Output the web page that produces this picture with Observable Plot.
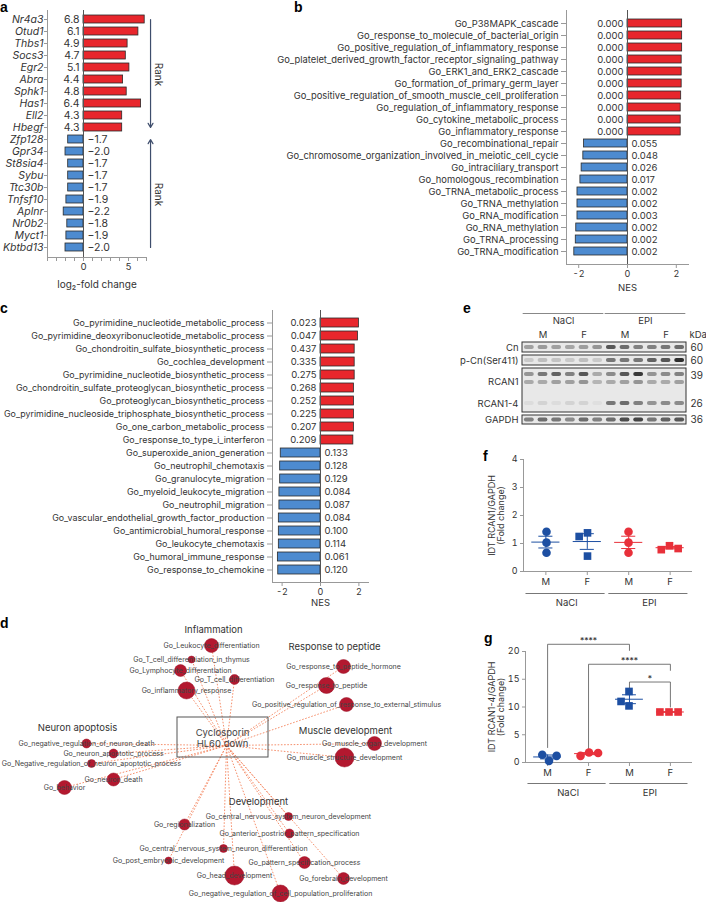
<!DOCTYPE html>
<html><head><meta charset="utf-8">
<script src="https://cdn.jsdelivr.net/npm/d3@7"></script>
<script src="https://cdn.jsdelivr.net/npm/@observablehq/plot@0.6"></script>
<style>
body{margin:0;background:#fff;}
#fig{position:relative;width:706px;height:902px;overflow:hidden;font-family:Inter,"Noto Sans",sans-serif;color:#333;}
.panel{position:absolute;}
.panel svg{display:block;overflow:visible;}
.lbl{position:absolute;font-family:"Liberation Sans",Arial,sans-serif;font-weight:bold;font-size:14px;line-height:14px;color:#000;}
</style></head><body><div id="fig"></div>
<script>
// ---------- DATA ----------
// panel a
const genesA = ["Nr4a3","Otud1","Thbs1","Socs3","Egr2","Abra","Sphk1","Has1","Ell2","Hbegf","Zfp128","Gpr34","St8sia4","Sybu","Ttc30b","Tnfsf10","Aplnr","Nr0b2","Myct1","Kbtbd13"];
const foldA = [6.8,6.1,4.9,4.7,5.1,4.4,4.8,6.4,4.3,4.3,-1.7,-2.0,-1.7,-1.7,-1.7,-1.9,-2.2,-1.8,-1.9,-2.0];
const rankArrows = [{from:"Nr4a3", to:"Hbegf"}, {from:"Kbtbd13", to:"Zfp128"}];
const rankLabelRows = ["Abra","Tnfsf10"];
// panel b
const termsB = ["Go_P38MAPK_cascade","Go_response_to_molecule_of_bacterial_origin","Go_positive_regulation_of_inflammatory_response","Go_platelet_derived_growth_factor_receptor_signaling_pathway","Go_ERK1_and_ERK2_cascade","Go_formation_of_primary_germ_layer","Go_positive_regulation_of_smooth_muscle_cell_proliferation","Go_regulation_of_inflammatory_response","Go_cytokine_metabolic_process","Go_inflammatory_response","Go_recombinational_repair","Go_chromosome_organization_involved_in_meiotic_cell_cycle","Go_intraciliary_transport","Go_homologous_recombination","Go_TRNA_metabolic_process","Go_TRNA_methylation","Go_RNA_modification","Go_RNA_methylation","Go_TRNA_processing","Go_TRNA_modification"];
const nesB = [2.24,2.24,2.24,2.22,2.22,2.22,2.2,2.18,2.18,2.18,-1.78,-1.81,-1.88,-1.93,-2.05,-2.05,-2.05,-2.1,-2.12,-2.18];
const fdrB = ["0.000","0.000","0.000","0.000","0.000","0.000","0.000","0.000","0.000","0.000","0.055","0.048","0.026","0.017","0.002","0.002","0.003","0.002","0.002","0.002"];
// panel c
const termsC = ["Go_pyrimidine_nucleotide_metabolic_process","Go_pyrimidine_deoxyribonucleotide_metabolic_process","Go_chondroitin_sulfate_biosynthetic_process","Go_cochlea_development","Go_pyrimidine_nucleotide_biosynthetic_process","Go_chondroitin_sulfate_proteoglycan_biosynthetic_process","Go_proteoglycan_biosynthetic_process","Go_pyrimidine_nucleoside_triphosphate_biosynthetic_process","Go_one_carbon_metabolic_process","Go_response_to_type_i_interferon","Go_superoxide_anion_generation","Go_neutrophil_chemotaxis","Go_granulocyte_migration","Go_myeloid_leukocyte_migration","Go_neutrophil_migration","Go_vascular_endothelial_growth_factor_production","Go_antimicrobial_humoral_response","Go_leukocyte_chemotaxis","Go_humoral_immune_response","Go_response_to_chemokine"];
const nesC = [2.0,1.95,1.78,1.78,1.78,1.74,1.74,1.74,1.74,1.71,-2.07,-2.1,-2.1,-2.14,-2.14,-2.17,-2.17,-2.17,-2.22,-2.2];
const fdrC = ["0.023","0.047","0.437","0.335","0.275","0.268","0.252","0.225","0.207","0.209","0.133","0.128","0.129","0.084","0.087","0.084","0.100","0.114","0.061","0.120"];
// panel d (network; layout coordinates and node sizes)
const clusterNames = ["Inflammation","Response to peptide","Neuron apoptosis","Muscle development","Development"];
const clusterX = [213,334,77,345,258];
const clusterY = [629,646,727,730,801];
const hubName = "Cyclosporin\nHL60 down";
const hubX = 226, hubY = 745;
const hubBox = {x1:177, x2:268, y1:717, y2:757, tx:222, ty:737.5};
const termNamesD = ["Go_Leukocyte_differentiation","Go_T_cell_differentiation_in_thymus","Go_Lymphocyte_differentiation","Go_T_cell_differentiation","Go_inflammatory_response","Go_response_to_peptide_hormone","Go_response_to_peptide","Go_positive_regulation_of_response_to_external_stimulus","Go_negative_regulation_of_neuron_death","Go_neuron_apoptotic_process","Go_Negative_regulation_of_neuron_apoptotic_process","Go_neuron_death","Go_behavior","Go_muscle_organ_development","Go_muscle_structure_development","Go_central_nervous_system_neuron_development","Go_regionalization","Go_anterior_postrior_pattern_specification","Go_central_nervous_system_neuron_differentiation","Go_post_embryonic_development","Go_pattern_specification_process","Go_head_development","Go_forebrain_development","Go_negative_regulation_of_cell_population_proliferation"];
const termXD = [211,191,180,234,186,343,326,346,86,113,91,113,64,374,344,288,184,289,223,168,304,234,343,280];
const termYD = [645,659,670,679,690,666,685,704,743,753,763,779,787,743,757,816,824,833,848,860,862,875,878,893];
const termSizeD = [7,3.5,6,5,8.5,7,8,7,4.5,4.5,4,6.5,7,7,9.5,4,5.5,4.5,4,3.5,6,9.5,6,8.5];
// panel e (western blot)
const blotLanes = [1,2,3,4,5,6,7,8,9,10,11,12];
const blotGroups = [{name:"NaCl", first:1, last:6},{name:"EPI", first:7, last:12}];
const blotSex = [{name:"M", lane:2},{name:"F", lane:5},{name:"M", lane:8},{name:"F", lane:11}];
const blotRows = ["Cn","p-Cn(Ser411)","RCAN1","GAPDH"];
const blotRowTop = [0,13,26,73];
const blotRowBottom = [10,23,70,82];
const blotLabels = ["Cn","p-Cn(Ser411)","RCAN1","RCAN1-4","GAPDH"];
const blotLabelY = [5,18,39,61,77.5];
const kDaLabels = ["60","60","39","26","36"];
const kDaY = [5,18,33,61,77.5];
const bandY = [5,18,32,40,61,77.5];
const bandIntensity = [
  [0.35,0.38,0.35,0.32,0.36,0.4,0.7,0.6,0.5,0.5,0.55,0.6],
  [0.15,0.2,0.18,0.15,0.2,0.15,0.55,0.55,0.55,0.65,0.7,0.9],
  [0.4,0.55,0.65,0.5,0.7,0.3,0.45,0.7,0.85,0.4,0.45,0.5],
  [0.3,0.3,0.35,0.35,0.4,0.25,0.3,0.35,0.4,0.3,0.3,0.35],
  [0.06,0.1,0.06,0.1,0.1,0.04,0.55,0.6,0.5,0.4,0.45,0.45],
  [0.5,0.6,0.55,0.45,0.6,0.5,0.6,0.75,0.8,0.55,0.65,0.7]
];
// panels f, g
const groupsFG = ["NaCl M","NaCl F","EPI M","EPI F"];
const sexFG = ["M","F","M","F"];
const treatFG = [{name:"NaCl", first:0, last:1},{name:"EPI", first:2, last:3}];
const fValues = [[1.42,1.03,0.67],[1.38,1.25,0.55],[1.42,1.03,0.67],[0.92,0.78,0.82]];
const fMean = [1.05,1.07,1.04,0.85];
const fSem = [0.21,0.28,0.22,0.04];
const gValues = [[0.3,1.4,1.2],[1.8,1.2,1.7],[12.8,10.2,11.0],[9.1,9.1,9.1]];
const gMean = [1.0,1.6,11.4,9.1];
const gSem = [0.35,0.18,0.8,0.03];
const gBrackets = [
  {from:0, to:2, base1:2.7, top:21.3, base2:20.2, label:"****"},
  {from:1, to:3, base1:2.5, top:17.7, base2:16.6, label:"****"},
  {from:2, to:3, base1:13.3, top:14.5, base2:10.0, label:"*"}
];

// ---------- STYLE ----------
const FONT = "Inter, 'Noto Sans', sans-serif";
const RED = "#e8262c", BLUE = "#4d8bd0", EDGE = "#2a2a2a";
const DBLUE = "#1d4fa2", DRED = "#e8303a";
const fig = document.getElementById("fig");
function place(node, left, top){
  const d = document.createElement("div"); d.className = "panel";
  d.style.left = left + "px"; d.style.top = top + "px";
  d.appendChild(node); fig.appendChild(d); return node;
}
function letter(ch, left, top){
  const d = document.createElement("div"); d.className = "lbl"; d.textContent = ch;
  d.style.left = left + "px"; d.style.top = top + "px"; fig.appendChild(d);
}
const baseStyle = (fs) => ({fontFamily: FONT, fontSize: fs + "px", color: "#333", background: "transparent", overflow: "visible", maxWidth: "none"});

// ---------- bar panels a, b, c ----------
function barPanel(o){
  const data = o.terms.map((t,i) => ({t, v:o.vals[i], lab:o.labels[i]}));
  const pos = data.filter(d => d.v > 0), neg = data.filter(d => d.v < 0);
  const marks = [
    Plot.frame({anchor:"bottom", stroke:"#999"}),
    Plot.ruleX([o.domain[0]], {stroke:"#999"}),
    Plot.barX(pos, {x:"v", y:"t", fill:RED, stroke:EDGE, strokeWidth:0.8}),
    Plot.barX(neg, {x:"v", y:"t", fill:BLUE, stroke:EDGE, strokeWidth:0.8}),
    Plot.ruleX([0], {stroke:"#555"}),
    Plot.text(pos, {x:0, y:"t", text:"lab", textAnchor:"end", dx:-4, fontSize:o.vfs, fill:"#333"}),
    Plot.text(neg, {x:0, y:"t", text:"lab", textAnchor:"start", dx:4, fontSize:o.vfs, fill:"#333"}),
    Plot.axisY({tickSize:o.ytick, tickPadding:o.ypad, stroke:"#999", fontSize:o.fs, fontStyle:o.italic ? "italic" : "normal", label:null}),
    Plot.axisX({ticks:o.ticks, tickFormat:o.tickFormat, tickSize:4, tickPadding:2, stroke:"#999", fontSize:o.tfs, label:null}),
    Plot.text([o.xLabel], {frameAnchor:"bottom", textAnchor:"middle", dy:o.labelDy, fontSize:o.lfs, fill:"#333"})
  ];
  if (o.extra) marks.push(...o.extra);
  return Plot.plot({
    width:o.width, height:o.height, marginLeft:o.ml, marginRight:o.mr, marginTop:o.mt, marginBottom:o.mb,
    style: baseStyle(o.fs),
    x:{domain:o.domain},
    y:{domain:o.terms, paddingInner:0.3, paddingOuter:o.po},
    marks
  });
}

// panel a
place(barPanel({
  terms:genesA, vals:foldA, labels:foldA.map(v => v < 0 ? "\u2212" + Math.abs(v).toFixed(1) : v.toFixed(1)),
  width:170, height:300, ml:47, mr:24, mt:10, mb:43, po:0.305,
  domain:[-4,7], ticks:d3.range(-4,8), tickFormat:d => (d === 0 || d === 5) ? d : "",
  fs:10.5, vfs:10.5, tfs:9.5, lfs:10, italic:true, ytick:3, ypad:1,
  xLabel:"log\u2082-fold change", labelDy:30,
  extra:[
    Plot.arrow(rankArrows, {x1:7.45, x2:7.45, y1:"from", y2:"to", stroke:"#3e4d6c", strokeWidth:1.2, headLength:6}),
    Plot.text(rankLabelRows, {x:8.3, y:d => d, dy:-5, text:() => "Rank", rotate:90, fontSize:10, fill:"#333"})
  ]
}), 0, 0);

// panel b
place(barPanel({
  terms:termsB, vals:nesB, labels:fdrB,
  width:416, height:300, ml:276, mr:18, mt:10, mb:36, po:0.285,
  domain:[-2.5,2.5], ticks:[-2,0,2], tickFormat:d => d,
  fs:9.4, vfs:9.5, tfs:9, lfs:9.5, italic:false, ytick:5, ypad:3,
  xLabel:"NES", labelDy:26
}), 290, 0);

// panel c
place(barPanel({
  terms:termsC, vals:nesC, labels:fdrC,
  width:380, height:320, ml:272, mr:12, mt:10, mb:38, po:0.285,
  domain:[-2.5,2.5], ticks:[-2,0,2], tickFormat:d => d,
  fs:8.9, vfs:9.5, tfs:9, lfs:9.5, italic:false, ytick:5, ypad:3,
  xLabel:"NES", labelDy:23
}), 0, 300);

// ---------- panel d (network) ----------
const nodesD = termNamesD.map((name,i) => ({name, x:termXD[i], y:termYD[i], size:termSizeD[i]}));
const clustersD = clusterNames.map((name,i) => ({name, x:clusterX[i], y:clusterY[i]}));
place(Plot.plot({
  width:470, height:287, margin:0,
  style: baseStyle(7),
  x:{domain:[0,470], range:[0,470], axis:null},
  y:{domain:[615,902], range:[0,287], axis:null},
  r:{type:"linear", domain:[0,10], range:[0,10]},
  marks:[
    Plot.link(nodesD, {x1:hubX, y1:hubY, x2:"x", y2:"y", stroke:"#f4835c", strokeWidth:0.9, strokeDasharray:"1.6,1.6"}),
    Plot.rect([hubBox], {x1:"x1", x2:"x2", y1:"y1", y2:"y2", fill:"none", stroke:"#555", strokeWidth:1}),
    Plot.text([hubBox], {x:"tx", y:"ty", text:() => hubName, fontSize:9.5, fill:"#444", lineHeight:1.15}),
    Plot.dot(nodesD, {x:"x", y:"y", r:"size", fill:"#b3182f", stroke:"#9a1428", strokeWidth:0.5}),
    Plot.text(nodesD, {x:"x", y:"y", text:"name", fontSize:7, fill:"#444"}),
    Plot.text(clustersD, {x:"x", y:"y", text:"name", fontSize:9.5, fill:"#333"})
  ]
}), 0, 615);

// ---------- panel e (western blot) ----------
const blotRowData = blotRows.map((name,i) => ({name, top:blotRowTop[i], bottom:blotRowBottom[i]}));
const bandData = bandIntensity.flatMap((arr,b) => arr.map((v,li) => ({lane:blotLanes[li], y:bandY[b], v})));
const svgE = Plot.plot({
  width:246, height:130, margin:0,
  style: baseStyle(9),
  x:{domain:[0.5,12.5], range:[62,226], axis:null},
  y:{domain:[-42,88], range:[0,130], axis:null},
  marks:[
    Plot.ruleY(blotGroups, {y:-29, x1:d => d.first - 0.45, x2:d => d.last + 0.45, stroke:"#888", strokeWidth:1}),
    Plot.text(blotGroups, {y:-22, x:d => (d.first + d.last) / 2, text:"name", fontSize:9.5, fill:"#333"}),
    Plot.text(blotSex, {y:-8, x:"lane", text:"name", fontSize:9.5, fill:"#333"}),
    Plot.text(["kDa"], {x:12.5, y:-8, dx:3, textAnchor:"start", fontSize:9.5, fill:"#333"}),
    Plot.rect(blotRowData, {x1:0.5, x2:12.5, y1:"top", y2:"bottom", fill:"#e8e8e8"}),
    Plot.rect(bandData, {x1:d => d.lane - 0.36, x2:d => d.lane + 0.36, y1:d => d.y - 2, y2:d => d.y + 2, fill:"#1a1a1a", fillOpacity:"v", rx:2, ariaLabel:"blotband"}),
    Plot.rect(blotRowData, {x1:0.5, x2:12.5, y1:"top", y2:"bottom", fill:"none", stroke:"#333", strokeWidth:1}),
    Plot.text(blotLabels, {x:0.5, y:(d,i) => blotLabelY[i], text:d => d, textAnchor:"end", dx:-4, fontSize:9.5, fill:"#333"}),
    Plot.text(kDaLabels, {x:12.5, y:(d,i) => kDaY[i], text:d => d, textAnchor:"start", dx:4, fontSize:10, fill:"#333"})
  ]
});
d3.select(svgE).append("defs").html('<filter id="blotblur" x="-50%" y="-200%" width="200%" height="500%"><feGaussianBlur stdDeviation="1.6 1.2"/></filter>');
d3.select(svgE).selectAll('g[aria-label="blotband"]').attr("filter", "url(#blotblur)");
place(svgE, 460, 300);

// ---------- panels f, g (dot plots) ----------
function dotPanel(o){
  const dims = {width:236, height:o.height, marginLeft:o.ml, marginRight:14, marginTop:o.mt, marginBottom:o.mb};
  const stats = groupsFG.map((g,i) => ({i, mean:o.mean[i], lo:o.mean[i] - o.sem[i], hi:o.mean[i] + o.sem[i], c:o.colors[i]}));
  const overlayMarks = [
    Plot.ruleY([0], {stroke:"#999"}),
    Plot.ruleX([-0.54], {stroke:"#999"}),
    Plot.axisY({ticks:o.ticks, tickFormat:d => String(d), tickSize:3, tickPadding:3, stroke:"#999", fontSize:9, label:null}),
    Plot.axisX({ticks:[0,1,2,3], tickFormat:i => sexFG[i], tickSize:4, tickPadding:3, stroke:"#999", fontSize:9.5, label:null}),
    Plot.ruleY(treatFG, {y:0, x1:d => d.first - 0.48, x2:d => d.last + 0.43, dy:o.lineDy, stroke:"#777"}),
    Plot.text(treatFG, {y:0, x:d => (d.first + d.last) / 2, text:"name", dy:o.lineDy + 9, fontSize:9.5, fill:"#333"}),
    Plot.text([o.yLabel], {frameAnchor:"left", textAnchor:"middle", lineAnchor:"middle", rotate:-90, dx:o.yLabelDx, fontSize:9, lineHeight:0.95, fill:"#333"}),
    Plot.ruleY(stats, {y:"mean", x1:d => d.i - 0.34, x2:d => d.i + 0.34, stroke:"c", strokeWidth:1}),
    Plot.ruleY(stats, {y:"lo", x1:d => d.i - 0.17, x2:d => d.i + 0.17, stroke:"c", strokeWidth:1}),
    Plot.ruleY(stats, {y:"hi", x1:d => d.i - 0.17, x2:d => d.i + 0.17, stroke:"c", strokeWidth:1}),
    Plot.ruleX(stats, {x:"i", y1:"lo", y2:"hi", stroke:"c", strokeWidth:1})
  ];
  if (o.brackets){
    const pts = o.brackets.flatMap((b,k) => [{k,x:b.from,y:b.base1},{k,x:b.from,y:b.top},{k,x:b.to,y:b.top},{k,x:b.to,y:b.base2}]);
    overlayMarks.push(Plot.line(pts, {x:"x", y:"y", z:"k", stroke:"#666", strokeWidth:0.9}));
    overlayMarks.push(Plot.text(o.brackets, {x:d => (d.from + d.to) / 2, y:"top", text:"label", dy:-3, fontSize:8.5, fill:"#333"}));
  }
  const overlay = Plot.plot({
    ...dims, style: baseStyle(9),
    x:{domain:[-0.54,3.54], axis:null},
    y:{domain:o.domain, axis:null},
    color:{type:"identity"},
    marks: overlayMarks
  });
  const pts = [];
  o.values.forEach((vals,gi) => vals.forEach(v => pts.push({g:groupsFG[gi], gi, v})));
  const dots = Plot.plot({
    ...dims, style: baseStyle(9),
    fx:{domain:groupsFG, paddingInner:0.32, paddingOuter:0.2, axis:null, label:null},
    y:{domain:o.domain, axis:null},
    marks: groupsFG.map((g,gi) => Plot.dot(pts.filter(p => p.gi === gi),
      Plot.dodgeX({anchor:"middle", padding:0.5}, {fx:"g", y:"v", r:4.3, fill:o.colors[gi], symbol:o.symbols[gi]})))
  });
  place(overlay, 470, o.top);
  place(dots, 470, o.top);
}
dotPanel({
  top:440, height:170, ml:53, mt:19, mb:39, domain:[0,4], ticks:[0,1,2,3,4],
  values:fValues, mean:fMean, sem:fSem,
  colors:[DBLUE,DBLUE,DRED,DRED], symbols:["circle","square","circle","square"],
  yLabel:"IDT RCAN1/GAPDH\n(Fold change)", yLabelDx:-27, lineDy:22
});
dotPanel({
  top:625, height:180, ml:55, mt:26, mb:43, domain:[0,20], ticks:[0,5,10,15,20],
  values:gValues, mean:gMean, sem:gSem,
  colors:[DBLUE,DRED,DBLUE,DRED], symbols:["circle","circle","square","square"],
  yLabel:"IDT RCAN1-4/GAPDH\n(Fold change)", yLabelDx:-29, lineDy:21, brackets:gBrackets
});

// panel letters
letter("a", 0, 0); letter("b", 294, 0); letter("c", 0, 301); letter("d", 0, 616);
letter("e", 463, 301); letter("f", 483, 449); letter("g", 484, 631);
</script></body></html>
